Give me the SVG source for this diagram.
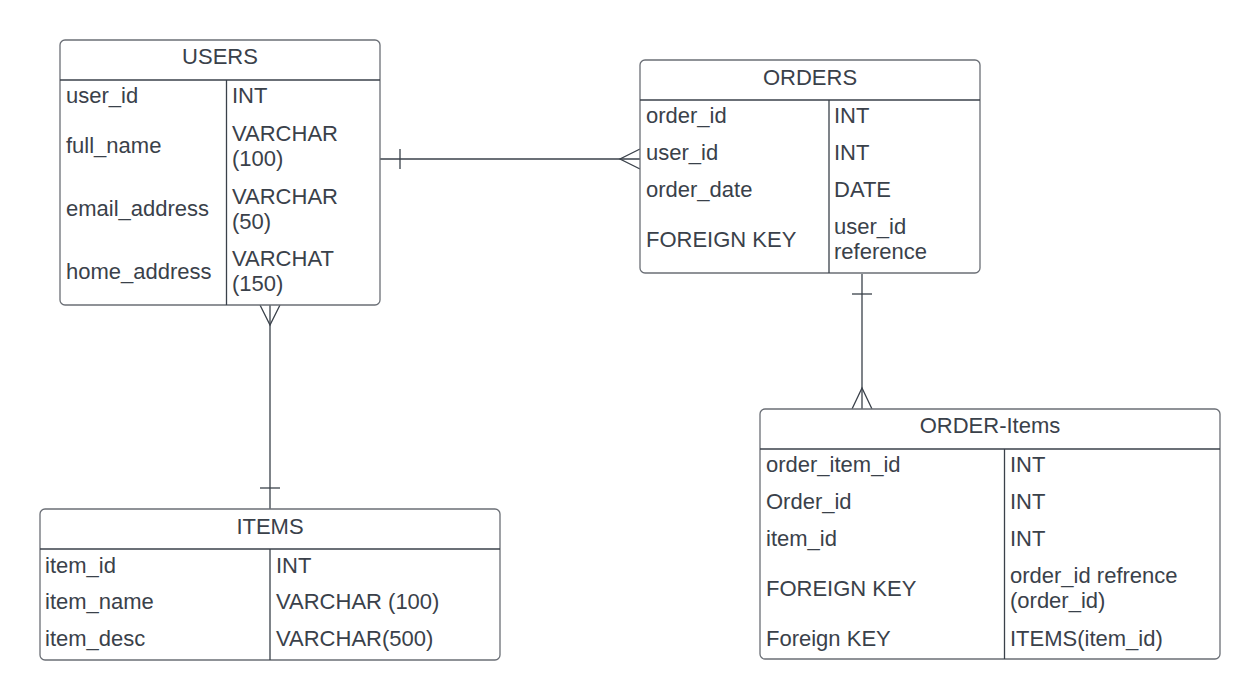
<svg xmlns="http://www.w3.org/2000/svg" width="1260" height="700" viewBox="0 0 1260 700">
<style>
.box{fill:#ffffff;stroke:#6b6f76;stroke-width:1.3}
.sep{stroke:#3a414a;stroke-width:1.3;fill:none}
.t{font-family:"Liberation Sans",Arial,sans-serif;font-size:22px;fill:#3a414a}
.h{text-anchor:middle}
.c{stroke:#3a414a;stroke-width:1.3;fill:none}
</style>
<rect width="1260" height="700" fill="#ffffff"/>
<g id="connectors">
  <g id="users-orders">
    <line class="c" x1="380" y1="159" x2="640" y2="159"/>
    <line class="c" x1="400" y1="149" x2="400" y2="169"/>
    <polyline class="c" points="640,149 620,159 640,169"/>
  </g>
  <g id="orders-orderitems">
    <line class="c" x1="862" y1="274" x2="862" y2="409"/>
    <line class="c" x1="852" y1="294" x2="872" y2="294"/>
    <polyline class="c" points="852,409 862,388 872,409"/>
  </g>
  <g id="users-items">
    <line class="c" x1="270" y1="305" x2="270" y2="509"/>
    <line class="c" x1="260" y1="488" x2="280" y2="488"/>
    <polyline class="c" points="260,305 270,325 280,305"/>
  </g>
</g>
<g id="users">
  <rect class="box" x="60" y="40" width="320" height="265" rx="5"/>
  <line class="sep" x1="60" y1="80" x2="380" y2="80"/>
  <line class="sep" x1="226.5" y1="80" x2="226.5" y2="305"/>
  <text class="t h" x="220" y="64">USERS</text>
  <text class="t" x="66" y="103">user_id</text>
  <text class="t" x="232" y="103">INT</text>
  <text class="t" x="66" y="153">full_name</text>
  <text class="t" x="232" y="141">VARCHAR</text>
  <text class="t" x="232" y="166">(100)</text>
  <text class="t" x="66" y="216">email_address</text>
  <text class="t" x="232" y="203.5">VARCHAR</text>
  <text class="t" x="232" y="229">(50)</text>
  <text class="t" x="66" y="279">home_address</text>
  <text class="t" x="232" y="266">VARCHAT</text>
  <text class="t" x="232" y="291">(150)</text>
</g>
<g id="orders">
  <rect class="box" x="640" y="60" width="340" height="213" rx="5"/>
  <line class="sep" x1="640" y1="100" x2="980" y2="100"/>
  <line class="sep" x1="829" y1="100" x2="829" y2="273"/>
  <text class="t h" x="810" y="85">ORDERS</text>
  <text class="t" x="646" y="123">order_id</text>
  <text class="t" x="834" y="123">INT</text>
  <text class="t" x="646" y="160">user_id</text>
  <text class="t" x="834" y="160">INT</text>
  <text class="t" x="646" y="197">order_date</text>
  <text class="t" x="834" y="197">DATE</text>
  <text class="t" x="646" y="247">FOREIGN KEY</text>
  <text class="t" x="834" y="234">user_id</text>
  <text class="t" x="834" y="259">reference</text>
</g>
<g id="items">
  <rect class="box" x="40" y="509" width="460" height="151" rx="5"/>
  <line class="sep" x1="40" y1="549" x2="500" y2="549"/>
  <line class="sep" x1="270" y1="549" x2="270" y2="660"/>
  <text class="t h" x="270" y="534">ITEMS</text>
  <text class="t" x="45" y="572.5">item_id</text>
  <text class="t" x="276" y="572.5">INT</text>
  <text class="t" x="45" y="609">item_name</text>
  <text class="t" x="276" y="609">VARCHAR (100)</text>
  <text class="t" x="45" y="646">item_desc</text>
  <text class="t" x="276" y="646">VARCHAR(500)</text>
</g>
<g id="order-items">
  <rect class="box" x="760" y="409" width="460" height="250" rx="5"/>
  <line class="sep" x1="760" y1="449" x2="1220" y2="449"/>
  <line class="sep" x1="1004.5" y1="449" x2="1004.5" y2="659"/>
  <text class="t h" x="990" y="433">ORDER-Items</text>
  <text class="t" x="766" y="472">order_item_id</text>
  <text class="t" x="1010" y="472">INT</text>
  <text class="t" x="766" y="509">Order_id</text>
  <text class="t" x="1010" y="509">INT</text>
  <text class="t" x="766" y="546">item_id</text>
  <text class="t" x="1010" y="546">INT</text>
  <text class="t" x="766" y="596">FOREIGN KEY</text>
  <text class="t" x="1010" y="582.5">order_id refrence</text>
  <text class="t" x="1010" y="608">(order_id)</text>
  <text class="t" x="766" y="645.5">Foreign KEY</text>
  <text class="t" x="1010" y="645.5">ITEMS(item_id)</text>
</g>
</svg>
